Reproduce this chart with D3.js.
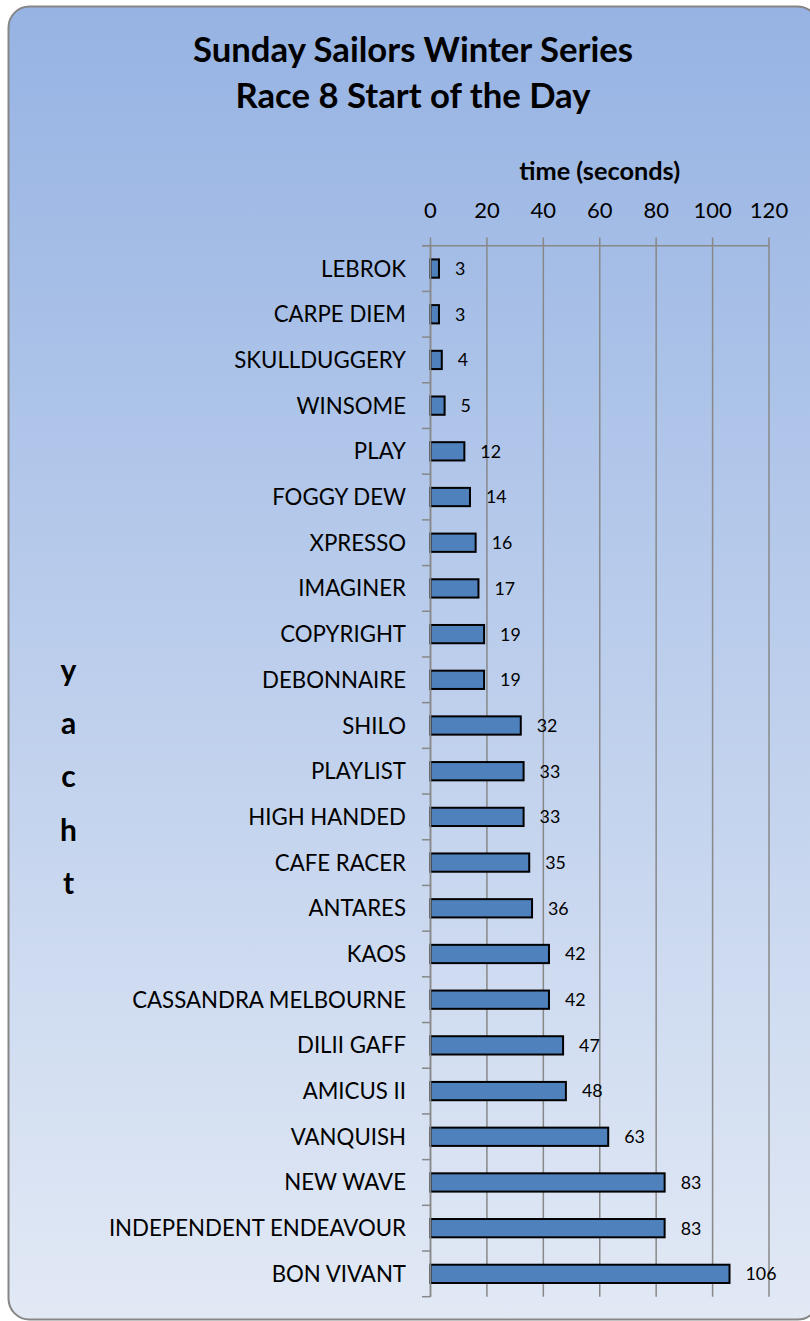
<!DOCTYPE html>
<html><head><meta charset="utf-8">
<script src="https://cdn.jsdelivr.net/npm/d3@7"></script>
<style>body{margin:0;background:#fff}svg{display:block}text{font-family:Lato,"Open Sans",sans-serif}</style>
</head><body><svg id="c" width="810" height="1321"></svg>
<script>
const categories = ["LEBROK","CARPE DIEM","SKULLDUGGERY","WINSOME","PLAY","FOGGY DEW","XPRESSO","IMAGINER","COPYRIGHT","DEBONNAIRE","SHILO","PLAYLIST","HIGH HANDED","CAFE RACER","ANTARES","KAOS","CASSANDRA MELBOURNE","DILII GAFF","AMICUS II","VANQUISH","NEW WAVE","INDEPENDENT ENDEAVOUR","BON VIVANT"];
const values = [3,3,4,5,12,14,16,17,19,19,32,33,33,35,36,42,42,47,48,63,83,83,106];
const xTicks = [0,20,40,60,80,100,120];
const titleLines = ["Sunday Sailors Winter Series","Race 8 Start of the Day"];
const xTitle = "time (seconds)";
const yTitleLetters = ["y","a","c","h","t"];

const svg = d3.select("#c");
const defs = svg.append("defs");
const g = defs.append("linearGradient").attr("id","bg").attr("x1",0).attr("y1",0).attr("x2",0).attr("y2",1);
g.append("stop").attr("offset","0%").attr("stop-color","#96b3e3");
g.append("stop").attr("offset","100%").attr("stop-color","#e2e9f5");

svg.append("rect").attr("x",8.5).attr("y",6.5).attr("width",810).attr("height",1313)
  .attr("rx",21).attr("ry",21).attr("fill","url(#bg)").attr("stroke","#868686").attr("stroke-width",2);

const x = d3.scaleLinear().domain([0,120]).range([430.5,769]);
const y = d3.scaleBand().domain(categories).range([245.7,1296.7]).padding(0);

function fit(sel, target){
  const w = sel.node().getComputedTextLength();
  const s = parseFloat(sel.attr("font-size"));
  sel.attr("font-size", s*target/w);
}

// title
const t1 = svg.append("text").attr("x",413).attr("y",62).attr("text-anchor","middle")
  .attr("font-weight","bold").attr("font-size",29).text(titleLines[0]);
fit(t1,440);
svg.append("text").attr("x",413).attr("y",108).attr("text-anchor","middle")
  .attr("font-weight","bold").attr("font-size",t1.attr("font-size")).text(titleLines[1]);

// x title
const xt = svg.append("text").attr("x",599.7).attr("y",180).attr("text-anchor","middle")
  .attr("font-weight","bold").attr("font-size",20).text(xTitle);
fit(xt,161);

// y title letters
yTitleLetters.forEach((l,i)=>{
  svg.append("text").attr("x",68.5).attr("y",680.7+i*53.3).attr("text-anchor","middle")
    .attr("font-weight","bold").attr("font-size",30).text(l);
});

const grid = "#888888";
// vertical gridlines incl. top ticks
svg.append("g").selectAll("line").data(xTicks).join("line")
  .attr("x1",d=>x(d)).attr("x2",d=>x(d)).attr("y1",237.5).attr("y2",1296.7)
  .attr("stroke",grid).attr("stroke-width",1.5);
// top axis line
svg.append("line").attr("x1",422).attr("x2",x(120)).attr("y1",245.7).attr("y2",245.7)
  .attr("stroke",grid).attr("stroke-width",1.5);
// tick labels
const tl = svg.append("g").selectAll("text").data(xTicks).join("text")
  .attr("x",d=>x(d)).attr("y",218).attr("text-anchor","middle").attr("font-size",22).attr("fill","#000")
  .text(d=>d);

// bars
const bh = y.bandwidth()*0.40;
svg.append("g").selectAll("rect").data(values).join("rect")
  .attr("x",x(0)).attr("y",(d,i)=>y(categories[i])+y.bandwidth()/2-bh/2)
  .attr("width",d=>x(d)-x(0)).attr("height",bh)
  .attr("fill","#4f81bd").attr("stroke","#000").attr("stroke-width",2);

// left axis line + category ticks
svg.append("line").attr("x1",x(0)).attr("x2",x(0)).attr("y1",245.7).attr("y2",1296.7)
  .attr("stroke",grid).attr("stroke-width",1.5);
const bounds = categories.map(c=>y(c)).concat([y.range()[1]]);
svg.append("g").selectAll("line").data(bounds).join("line")
  .attr("x1",422).attr("x2",x(0)).attr("y1",d=>d).attr("y2",d=>d)
  .attr("stroke",grid).attr("stroke-width",1.5);

// category labels
const cl = svg.append("g").selectAll("text").data(categories).join("text")
  .attr("x",406).attr("y",d=>y(d)+y.bandwidth()/2).attr("dy","0.36em")
  .attr("text-anchor","end").attr("font-size",21).text(d=>d);
const deb = cl.filter(d=>d==="DEBONNAIRE");
const ws = 21*144/deb.node().getComputedTextLength();
cl.attr("font-size",ws);

// value labels
const vl = svg.append("g").selectAll("text").data(values).join("text")
  .attr("x",d=>x(d)+16).attr("y",(d,i)=>y(categories[i])+y.bandwidth()/2).attr("dy","0.36em")
  .attr("font-size",18).text(d=>d);
const v106 = vl.filter(d=>d===106);
const vs = 18*31/v106.node().getComputedTextLength();
vl.attr("font-size",vs);
</script></body></html>
